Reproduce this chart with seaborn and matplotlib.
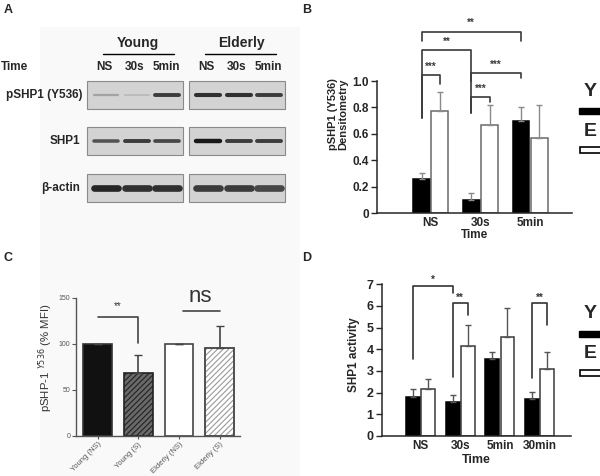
import numpy as np
import pandas as pd
import matplotlib
matplotlib.use("Agg")
import matplotlib.pyplot as plt
import seaborn as sns
from matplotlib.patches import Rectangle

# ---- panel A: western blot band strengths (0 = none, 1 = dark) ----
lanes = ["NS", "30s", "5min"]
blot_rows = ["pSHP1 (Y536)", "SHP1", "\u03b2-actin"]
band_young = [[0.4, 0.3, 0.85], [0.75, 0.85, 0.8], [0.95, 0.9, 0.9]]
band_elderly = [[0.9, 0.9, 0.85], [1.0, 0.85, 0.85], [0.85, 0.85, 0.8]]

# ---- panel B: pSHP1 densitometry ----
b_times = ["NS", "30s", "5min"]
b_young = [0.26, 0.10, 0.70]
b_young_err = [0.04, 0.05, 0.10]
b_elderly = [0.77, 0.67, 0.57]
b_elderly_err = [0.15, 0.15, 0.25]

# ---- panel C: pSHP-1 flow (% MFI) ----
c_groups = ["Young (NS)", "Young (S)", "Elderly (NS)", "Elderly (S)"]
c_values = [100, 69, 100, 96]
c_err = [0, 19, 0, 24]

# ---- panel D: SHP1 activity ----
d_times = ["NS", "30s", "5min", "30min"]
d_young = [1.78, 1.55, 3.55, 1.72]
d_young_err = [0.38, 0.33, 0.32, 0.32]
d_elderly = [2.15, 4.13, 4.55, 3.08]
d_elderly_err = [0.48, 1.0, 1.35, 0.8]

sns.set_style("ticks")
plt.rcParams["font.family"] = ["Liberation Sans", "DejaVu Sans"]
plt.rcParams["hatch.linewidth"] = 0.8

W, H = 600, 476
fig = plt.figure(figsize=(6, 4.76), dpi=100)


def fx(px):
    return px / W


def fy(py):
    return 1 - py / H


def centers(ax):
    return [p.get_x() + p.get_width() / 2 for p in ax.patches]


def bracket(ax, x0, x1, y, yl0, yl1, text, ty, color, fs=7):
    ax.plot([x0, x0, x1, x1], [yl0, y, y, yl1], color=color, lw=1.2, clip_on=False)
    ax.text((x0 + x1) / 2, ty, text, ha="center", va="center", fontsize=fs,
            color=color, fontweight="bold")


# faint grey backdrop behind the left column (A and C)
fig.patches.append(Rectangle((fx(40), 0), fx(300) - fx(40), fy(27), transform=fig.transFigure,
                             facecolor="#f9f9f9", edgecolor="none", zorder=-5))

# ================= A =================
ax_a = fig.add_axes([0, fy(250), 0.5, 250 / H])
ax_a.set_xlim(0, 300)
ax_a.set_ylim(250, 0)
ax_a.axis("off")

ax_a.text(138, 43, "Young", ha="center", va="center", fontsize=10, fontweight="bold")
ax_a.plot([103, 174], [54, 54], color="black", lw=1)
ax_a.text(241, 43, "Elderly", ha="center", va="center", fontsize=10, fontweight="bold")
ax_a.plot([205, 276], [54, 54], color="black", lw=1)
ax_a.text(1, 67, "Time", ha="left", va="center", fontsize=8.5, fontweight="bold")
for x0 in [87, 189]:
    for j, name in enumerate(lanes):
        ax_a.text(x0 + 17 + j * 31, 67, name, ha="center", va="center",
                  fontsize=8.5, fontweight="bold")

row_y = [95, 141, 187.5]
row_label_x = [83, 80, 80]
for r, label in enumerate(blot_rows):
    ax_a.text(row_label_x[r], row_y[r], label, ha="right", va="center",
              fontsize=8.5, fontweight="bold")
    for x0, bands in [(87, band_young[r]), (189, band_elderly[r])]:
        ax_a.add_patch(Rectangle((x0, row_y[r] - 14), 96, 28, facecolor="#d3d3d3",
                                 edgecolor="#8a8a8a", lw=0.8, zorder=1))
        for j, s in enumerate(bands):
            xc = x0 + 19 + j * 30.5
            g = 1 - 0.9 * s
            lw = 0.6 + 2.6 * s if r < 2 else 4.8
            ax_a.plot([xc - 12, xc + 12], [row_y[r], row_y[r]], color=str(g), lw=lw,
                      solid_capstyle="round", zorder=2)

# ================= B =================
ax_b = fig.add_axes([fx(377), fy(213), 195 / W, 198 / H])
df_b = pd.DataFrame({"time": b_times * 2,
                     "group": ["Y"] * 3 + ["E"] * 3,
                     "value": b_young + b_elderly})
sns.barplot(df_b, x="time", y="value", hue="group", palette={"Y": "black", "E": "white"},
            width=0.74, gap=0.08, errorbar=None, legend=False, ax=ax_b, linewidth=1.1)
for i, p in enumerate(ax_b.patches):
    p.set_edgecolor("black" if i < 3 else "#6a6a6a")
cb = centers(ax_b)
ax_b.errorbar(cb, b_young + b_elderly, yerr=[[0] * 6, b_young_err + b_elderly_err],
              fmt="none", ecolor="#8a8a8a", elinewidth=1, capsize=2.5, zorder=1)
ax_b.set_ylim(0, 1.5)
ax_b.set_xlim(-1.08, 2.84)
ax_b.set_yticks([0, 0.2, 0.4, 0.6, 0.8, 1.0])
ax_b.set_yticklabels(["0", "0.2", "0.4", "0.6", "0.8", "1.0"], fontsize=8.5, fontweight="bold")
ax_b.set_xticks(range(3))
ax_b.set_xticklabels(b_times, fontsize=8.5, fontweight="bold")
ax_b.tick_params(axis="x", length=0, pad=3)
ax_b.tick_params(axis="y", length=4, width=1, pad=2)
ax_b.set_xlabel("Time", fontsize=8.5, fontweight="bold", labelpad=0)
ax_b.set_ylabel("pSHP1 (Y536)\nDensitometry", fontsize=8, fontweight="bold", labelpad=3,
                linespacing=0.95)
sns.despine(ax=ax_b)
ax_b.spines["left"].set_bounds(0, 1.0)
for s in ["left", "bottom"]:
    ax_b.spines[s].set_linewidth(1.1)
bc = "#3a3a3a"
bracket(ax_b, cb[0], cb[2], 1.37, 1.30, 1.30, "**", 1.44, bc)
bracket(ax_b, cb[0], cb[1], 1.235, 0.72, 1.0, "**", 1.30, bc)
bracket(ax_b, cb[1], cb[2], 1.06, 0.76, 1.02, "***", 1.12, bc)
bracket(ax_b, cb[0], cb[3], 1.045, 0.72, 0.98, "***", 1.105, bc)
bracket(ax_b, cb[1], cb[4], 0.88, 0.76, 0.84, "***", 0.94, bc)

# ================= C =================
ax_c = fig.add_axes([fx(76), fy(436), 164 / W, 170 * 0.92 / H])
ax_c.patch.set_alpha(0)
df_c = pd.DataFrame({"group": c_groups, "value": c_values})
sns.barplot(df_c, x="group", y="value", width=0.71, errorbar=None, ax=ax_c,
            color="white", linewidth=1.2)
c_faces = ["#111111", "#6a6a6a", "white", "white"]
c_edges = ["#333333", "#222222", "#444444", "#9a9a9a"]
c_hatch = [None, "//////", None, "//////"]
for p, fc, ec, h in zip(ax_c.patches, c_faces, c_edges, c_hatch):
    p.set_facecolor(fc)
    p.set_edgecolor(ec)
    if h:
        p.set_hatch(h)
ol = ax_c.patches[3]
ax_c.add_patch(Rectangle((ol.get_x(), 0), ol.get_width(), ol.get_height(), fill=False,
                         edgecolor="#444444", lw=1.2, zorder=3))
cc = centers(ax_c)[:4]
ax_c.errorbar(cc, c_values, yerr=[[0] * 4, c_err], fmt="none", ecolor="#444444",
              elinewidth=1.2, capsize=3, zorder=1)
ax_c.set_ylim(0, 170)
ax_c.set_xlim(-0.53, 3.5)
ax_c.set_yticks([0, 50, 100, 150])
ax_c.tick_params(axis="y", labelsize=5, colors="#555555", length=3, width=0.8, pad=1)
ax_c.tick_params(axis="x", labelsize=5.5, colors="#555555", length=2.5, width=0.8, pad=1)
for t in ax_c.get_xticklabels():
    t.set_rotation(45)
    t.set_ha("right")
    t.set_rotation_mode("anchor")
ax_c.set_xlabel("")
ax_c.set_ylabel("pSHP-1 $^{Y536}$ (% MFI)", fontsize=8.2, color="#333333")
ax_c.yaxis.set_label_coords(-0.125, 0.5)
sns.despine(ax=ax_c)
ax_c.spines["left"].set_bounds(0, 150)
for s in ["left", "bottom"]:
    ax_c.spines[s].set_color("#555555")
    ax_c.spines[s].set_linewidth(1)
ax_c.plot([cc[0], cc[1], cc[1]], [129, 129, 101], color="#444444", lw=1.2)
ax_c.text((cc[0] + cc[1]) / 2, 141, "**", ha="center", va="center", fontsize=7, color="#333333")
ax_c.plot([2.1, 3.0], [136, 136], color="#444444", lw=1.2)
ax_c.text(2.52, 152, "ns", ha="center", va="center", fontsize=16, color="#333333")

# ================= D =================
ax_d = fig.add_axes([fx(382), fy(436), 189 / W, 7.5 * 21.7 / H])
df_d = pd.DataFrame({"time": d_times * 2,
                     "group": ["Y"] * 4 + ["E"] * 4,
                     "value": d_young + d_elderly})
sns.barplot(df_d, x="time", y="value", hue="group", palette={"Y": "black", "E": "white"},
            width=0.76, gap=0.08, errorbar=None, legend=False, ax=ax_d, linewidth=1.1)
for i, p in enumerate(ax_d.patches):
    p.set_edgecolor("black" if i < 4 else "#3a3a3a")
cd = centers(ax_d)
ax_d.errorbar(cd, d_young + d_elderly, yerr=[[0] * 8, d_young_err + d_elderly_err],
              fmt="none", ecolor="#555555", elinewidth=1, capsize=2.5, zorder=1)
ax_d.set_ylim(0, 7.5)
ax_d.set_xlim(-0.97, 3.79)
ax_d.set_yticks(range(8))
ax_d.set_yticklabels([str(v) for v in range(8)], fontsize=9, fontweight="bold")
ax_d.set_xticks(range(4))
ax_d.set_xticklabels(d_times, fontsize=8.5, fontweight="bold")
ax_d.tick_params(axis="x", length=0, pad=3)
ax_d.tick_params(axis="y", length=4, width=1, pad=2)
ax_d.set_xlabel("Time", fontsize=9, fontweight="bold", labelpad=1)
ax_d.set_ylabel("SHP1 activity", fontsize=8.5, fontweight="bold", labelpad=5)
sns.despine(ax=ax_d)
ax_d.spines["left"].set_bounds(0, 7)
for s in ["left", "bottom"]:
    ax_d.spines[s].set_linewidth(1.1)
dc = "#333333"
bracket(ax_d, cd[0], cd[1], 6.91, 3.55, 6.6, "*", 7.2, dc)
bracket(ax_d, cd[1], cd[5], 6.13, 2.72, 5.58, "**", 6.38, dc)
bracket(ax_d, cd[3], cd[7], 6.13, 2.67, 5.1, "**", 6.38, dc)

# ================= legends & panel letters =================
for ty, ry, ey, wy in [(92, 108, 132, 147), (313, 331, 354, 370)]:
    fig.text(fx(590), fy(ty), "Y", ha="center", va="center", fontsize=14, fontweight="bold")
    fig.patches.append(Rectangle((fx(579), fy(ry + 6)), 30 / W, 6 / H, transform=fig.transFigure,
                                 facecolor="black", edgecolor="black", lw=1))
    fig.text(fx(590), fy(ey), "E", ha="center", va="center", fontsize=14, fontweight="bold")
    fig.patches.append(Rectangle((fx(580), fy(wy + 6)), 30 / W, 6 / H, transform=fig.transFigure,
                                 facecolor="white", edgecolor="black", lw=1.2))

for letter, x, y in [("A", 8, 10), ("B", 307, 10), ("C", 8, 258), ("D", 307, 258)]:
    fig.text(fx(x), fy(y), letter, ha="center", va="center", fontsize=9, fontweight="bold")

fig.savefig("out.png", dpi=100)
